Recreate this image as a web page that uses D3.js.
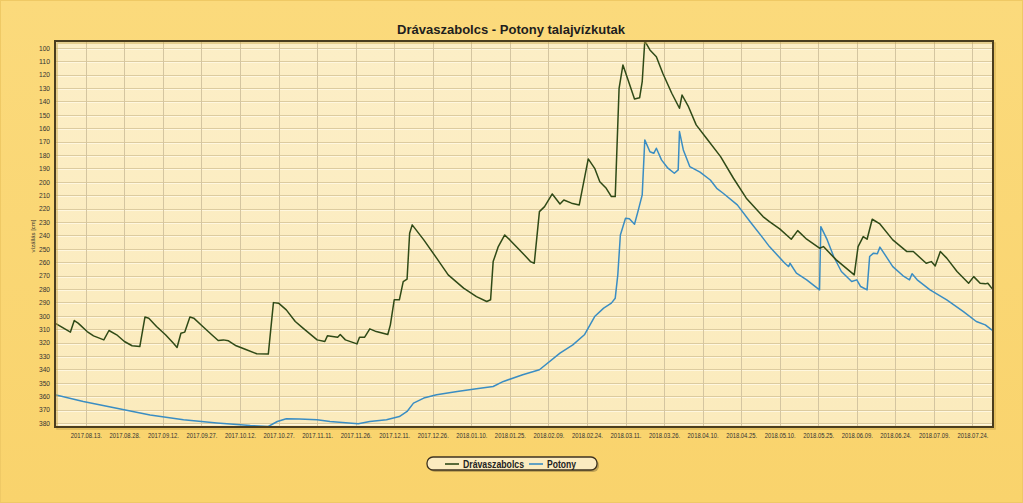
<!DOCTYPE html>
<html><head><meta charset="utf-8">
<script src="https://cdn.jsdelivr.net/npm/d3@7"></script>
<style>html,body{margin:0;padding:0;background:#F9D672;}svg{display:block;}</style>
</head><body>
<svg id="c" width="1023" height="503"></svg>
<script>
const title = "Drávaszabolcs - Potony talajvízkutak";
const yLabel = "vízállás [cm]";
const seriesNames = ["Drávaszabolcs", "Potony"];
const xTickLabels = ["2017.08.13.","2017.08.28.","2017.09.12.","2017.09.27.","2017.10.12.","2017.10.27.","2017.11.11.","2017.11.26.","2017.12.11.","2017.12.26.","2018.01.10.","2018.01.25.","2018.02.09.","2018.02.24.","2018.03.11.","2018.03.26.","2018.04.10.","2018.04.25.","2018.05.10.","2018.05.25.","2018.06.09.","2018.06.24.","2018.07.09.","2018.07.24."];
const yTicks = [100,110,120,130,140,150,160,170,180,190,200,210,220,230,240,250,260,270,280,290,300,310,320,330,340,350,360,370,380];

const dravaDates = ["2017-08-01T00","2017-08-07T00","2017-08-08T12","2017-08-10T00","2017-08-13T12","2017-08-16T00","2017-08-20T00","2017-08-22T00","2017-08-25T00","2017-08-28T00","2017-08-31T00","2017-09-03T00","2017-09-05T00","2017-09-06T12","2017-09-09T12","2017-09-13T00","2017-09-16T00","2017-09-17T12","2017-09-19T00","2017-09-20T12","2017-09-22T12","2017-09-24T00","2017-09-27T12","2017-10-01T00","2017-10-03T12","2017-10-05T12","2017-10-07T12","2017-10-10T12","2017-10-14T12","2017-10-18T12","2017-10-23T00","2017-10-25T00","2017-10-27T00","2017-10-30T00","2017-11-02T12","2017-11-05T12","2017-11-11T00","2017-11-14T00","2017-11-15T00","2017-11-19T00","2017-11-20T00","2017-11-22T00","2017-11-26T12","2017-11-27T12","2017-11-29T12","2017-12-01T12","2017-12-04T00","2017-12-08T12","2017-12-09T12","2017-12-11T00","2017-12-13T00","2017-12-14T12","2017-12-16T00","2017-12-17T00","2017-12-18T00","2017-12-22T12","2017-12-27T12","2018-01-01T00","2018-01-07T00","2018-01-12T00","2018-01-16T00","2018-01-17T12","2018-01-18T12","2018-01-20T12","2018-01-23T00","2018-01-25T00","2018-01-30T00","2018-02-02T00","2018-02-03T12","2018-02-05T12","2018-02-07T12","2018-02-10T12","2018-02-13T12","2018-02-15T00","2018-02-18T00","2018-02-21T00","2018-02-24T12","2018-02-27T00","2018-03-01T00","2018-03-03T12","2018-03-05T12","2018-03-07T00","2018-03-08T12","2018-03-10T00","2018-03-12T00","2018-03-14T12","2018-03-16T12","2018-03-17T12","2018-03-18T12","2018-03-20T12","2018-03-23T00","2018-03-25T12","2018-03-29T00","2018-04-01T00","2018-04-02T00","2018-04-04T12","2018-04-07T12","2018-04-11T12","2018-04-17T00","2018-04-22T00","2018-04-27T00","2018-05-03T12","2018-05-06T00","2018-05-10T00","2018-05-14T12","2018-05-17T00","2018-05-20T12","2018-05-25T12","2018-05-27T00","2018-06-01T00","2018-06-08T00","2018-06-09T12","2018-06-11T12","2018-06-13T00","2018-06-15T00","2018-06-18T00","2018-06-23T00","2018-06-28T12","2018-07-01T00","2018-07-06T00","2018-07-08T00","2018-07-09T12","2018-07-11T12","2018-07-14T00","2018-07-18T00","2018-07-22T12","2018-07-24T12","2018-07-27T00","2018-07-29T00","2018-07-30T00","2018-07-31T12","2018-08-01T00"];
const dravaValues = [305.5,312.2,303.6,305.5,311.8,315,318,311,314.2,319.2,322.4,323,301,301.8,308,314.2,320.4,323.7,313,312.2,301,301.8,308,314.2,318.5,318,318.7,322.4,325.4,328.4,328.6,290.2,290.6,295.6,304.3,309.2,318,319.2,315,316,314,318,321,316,316,309.8,311.8,314,306.8,288.1,288.1,274.5,272.7,238.4,232.2,243.4,257,269.5,279.4,285.7,289.4,288.1,259.6,248.4,239.7,243.4,253.3,259.6,260.8,222.3,218.6,209.1,216.6,213.6,216,217.3,183,190,200,204.9,211.1,211.1,130.3,112.9,124.1,138.3,137.3,125.4,95,101.7,106.7,119.1,134,145.2,135.3,144,157.6,167.6,181.3,197.4,212.3,226,229.8,235.2,242.9,236.5,242.9,249.6,248.4,258.3,269.5,248.4,240.9,242.9,228,231.5,243.4,252.1,252.1,260.8,259.6,262.8,252.1,257,267,275.7,270.8,275.7,276.2,275.7,279.4,280];

const potonyDates = ["2017-08-01T00","2017-08-12T00","2017-08-25T00","2017-09-07T00","2017-09-20T00","2017-10-03T00","2017-10-16T00","2017-10-23T00","2017-10-26T12","2017-10-30T00","2017-11-04T00","2017-11-11T00","2017-11-16T00","2017-11-27T00","2017-12-01T12","2017-12-08T00","2017-12-13T00","2017-12-16T00","2017-12-18T12","2017-12-22T12","2017-12-27T12","2018-01-04T12","2018-01-12T00","2018-01-18T12","2018-01-22T12","2018-01-30T00","2018-02-05T12","2018-02-13T12","2018-02-18T12","2018-02-23T00","2018-02-27T00","2018-03-02T12","2018-03-05T12","2018-03-07T00","2018-03-08T00","2018-03-09T00","2018-03-11T00","2018-03-12T12","2018-03-14T12","2018-03-16T00","2018-03-17T12","2018-03-18T12","2018-03-20T12","2018-03-22T00","2018-03-23T00","2018-03-25T00","2018-03-27T12","2018-03-30T00","2018-03-31T12","2018-04-01T00","2018-04-02T12","2018-04-05T00","2018-04-09T00","2018-04-13T00","2018-04-15T12","2018-04-18T00","2018-04-23T12","2018-04-28T12","2018-05-03T12","2018-05-06T00","2018-05-12T00","2018-05-13T12","2018-05-14T00","2018-05-16T12","2018-05-20T12","2018-05-25T12","2018-05-26T00","2018-05-28T12","2018-05-31T00","2018-06-03T00","2018-06-07T00","2018-06-09T00","2018-06-10T12","2018-06-13T00","2018-06-14T00","2018-06-15T12","2018-06-17T00","2018-06-18T00","2018-06-20T00","2018-06-23T00","2018-06-27T00","2018-06-29T12","2018-06-30T12","2018-07-02T12","2018-07-07T12","2018-07-14T00","2018-07-20T12","2018-07-25T12","2018-07-29T00","2018-07-31T12","2018-08-01T00"];
const potonyValues = [359,364,369,374,377.6,380,381.9,382.6,378.9,376.9,377.1,377.6,378.9,380.6,378.9,377.6,375.2,371.4,365.2,361.4,359,356.5,354.5,352.8,349,344,340.3,327.9,321.7,314.2,300.6,294.3,290.6,286.9,269.5,239.7,227.2,227.7,231.7,221,209.8,168.8,177.6,178.8,175,183.7,189.9,193.7,191.2,162.6,176.3,188.7,192.9,198.7,204.9,208.6,217.3,229.8,242.1,248.4,260.8,263.3,260.8,268.2,273.2,280.7,233.5,243.4,255.8,267,274.5,273.2,278.2,280.7,255.8,253.3,253.8,248.8,254.6,263.3,270.2,273.2,268.7,273.2,280.7,288.1,296.9,304.3,306.8,310.5,311];

const W = 1023, H = 503;
const FONT = "Liberation Sans, Arial, sans-serif";
const svg = d3.select("#c");
const defs = svg.append("defs");
const bgGrad = defs.append("linearGradient").attr("id","bg").attr("x1",0).attr("y1",0).attr("x2",0).attr("y2",1);
bgGrad.append("stop").attr("offset","0").attr("stop-color","#FBDA7C");
bgGrad.append("stop").attr("offset","1").attr("stop-color","#F9D36C");
const plGrad = defs.append("linearGradient").attr("id","pl").attr("x1",0).attr("y1",0).attr("x2",0).attr("y2",1);
plGrad.append("stop").attr("offset","0").attr("stop-color","#FCEEC6");
plGrad.append("stop").attr("offset","1").attr("stop-color","#FBEBBD");

svg.append("rect").attr("x",0).attr("y",0).attr("width",W).attr("height",H).attr("fill","url(#bg)");
svg.append("rect").attr("x",0.5).attr("y",0.5).attr("width",W-1).attr("height",H-1)
  .attr("fill","none").attr("stroke","#EFC965").attr("stroke-width",1);

const L = 55, R = 993, T = 41, B = 427;
const parseT = d3.utcParse("%Y-%m-%dT%H");
const parseTick = d3.utcParse("%Y.%m.%d.");
const x = d3.scaleUtc().domain([parseT("2017-08-01T00"), parseT("2018-08-01T00")]).range([L, R]);
const y = d3.scaleLinear().domain([95, 383]).range([T, B]);

svg.append("rect").attr("x",L).attr("y",T).attr("width",R-L).attr("height",B-T).attr("fill","url(#pl)");

const g = svg.append("g");
g.selectAll("line.hg").data(yTicks).join("line")
  .attr("x1",L).attr("x2",R).attr("y1",d=>Math.round(y(d))+0.5).attr("y2",d=>Math.round(y(d))+0.5)
  .attr("stroke","#DCCB9F").attr("stroke-width",1);
g.selectAll("line.hg2").data(yTicks).join("line")
  .attr("x1",L).attr("x2",R).attr("y1",d=>Math.round(y(d))+1.5).attr("y2",d=>Math.round(y(d))+1.5)
  .attr("stroke","#FFF7DF").attr("stroke-width",1);
const tickDates = xTickLabels.map(parseTick);
g.selectAll("line.vg").data(tickDates).join("line")
  .attr("y1",T).attr("y2",B).attr("x1",d=>Math.round(x(d))+0.5).attr("x2",d=>Math.round(x(d))+0.5)
  .attr("stroke","#D4C5A0").attr("stroke-width",1);

const yAxis = d3.axisLeft(y).tickValues(yTicks).tickSize(0).tickPadding(5);
const ya = svg.append("g").attr("transform",`translate(${L},0)`).call(yAxis);
ya.select(".domain").remove();
ya.selectAll("text").attr("font-family",FONT).attr("font-size",7.5).attr("fill","#333")
  .attr("textLength",11).attr("lengthAdjust","spacingAndGlyphs");

const xAxis = d3.axisBottom(x).tickValues(tickDates).tickSize(0).tickPadding(6)
  .tickFormat((d,i)=>xTickLabels[i]);
const xa = svg.append("g").attr("transform",`translate(0,${B})`).call(xAxis);
xa.select(".domain").remove();
xa.selectAll("text").attr("font-family",FONT).attr("font-size",7.5).attr("fill","#333")
  .attr("textLength",31).attr("lengthAdjust","spacingAndGlyphs");

const line = d3.line().x(d=>x(d[0])).y(d=>y(d[1]));
const dravaData = dravaDates.map((d,i)=>[parseT(d), dravaValues[i]]);
const potonyData = potonyDates.map((d,i)=>[parseT(d), potonyValues[i]]);
const clip = defs.append("clipPath").attr("id","clip");
clip.append("rect").attr("x",L).attr("y",T).attr("width",R-L).attr("height",B-T);
const lg = svg.append("g").attr("clip-path","url(#clip)");
lg.append("path").datum(potonyData).attr("d",line).attr("fill","none").attr("stroke","#3A8DC3").attr("stroke-width",1.5).attr("stroke-linejoin","round");
lg.append("path").datum(dravaData).attr("d",line).attr("fill","none").attr("stroke","#2F4A17").attr("stroke-width",1.5).attr("stroke-linejoin","round");

svg.append("rect").attr("x",L+2).attr("y",T+2).attr("width",R-L).attr("height",B-T)
  .attr("fill","none").attr("stroke","#C9A64A").attr("stroke-width",1.5).attr("opacity",0.6);
svg.append("rect").attr("x",L).attr("y",T).attr("width",R-L).attr("height",B-T)
  .attr("fill","none").attr("stroke","#4A3D1E").attr("stroke-width",2);

svg.append("text").attr("x",511).attr("y",34).attr("text-anchor","middle")
  .attr("font-family",FONT).attr("font-weight","bold").attr("font-size",12.5)
  .attr("fill","#1E1E1E").attr("textLength",228).attr("lengthAdjust","spacingAndGlyphs").text(title);

svg.append("text").attr("transform","translate(35,236) rotate(-90)").attr("text-anchor","middle")
  .attr("font-family",FONT).attr("font-size",6).attr("fill","#333").text(yLabel);

const leg = svg.append("g");
leg.append("rect").attr("x",429).attr("y",459).attr("width",170).attr("height",13).attr("rx",6)
  .attr("fill","#8A7440").attr("opacity",0.5);
leg.append("rect").attr("x",427).attr("y",457).attr("width",170).attr("height",13).attr("rx",6)
  .attr("fill","#FBEBC0").attr("stroke","#3E3320").attr("stroke-width",1.3);
const legColors = ["#2F4A17","#3A8DC3"];
const legX = [445, 529];
const legTextW = [61, 29];
seriesNames.forEach((n,i)=>{
  leg.append("line").attr("x1",legX[i]).attr("x2",legX[i]+14).attr("y1",464).attr("y2",464)
    .attr("stroke",legColors[i]).attr("stroke-width",1.6);
  leg.append("text").attr("x",legX[i]+18).attr("y",467.5)
    .attr("font-family",FONT).attr("font-weight","bold").attr("font-size",10.5)
    .attr("fill","#222").attr("textLength",legTextW[i]).attr("lengthAdjust","spacingAndGlyphs").text(n);
});
</script>
</body></html>
